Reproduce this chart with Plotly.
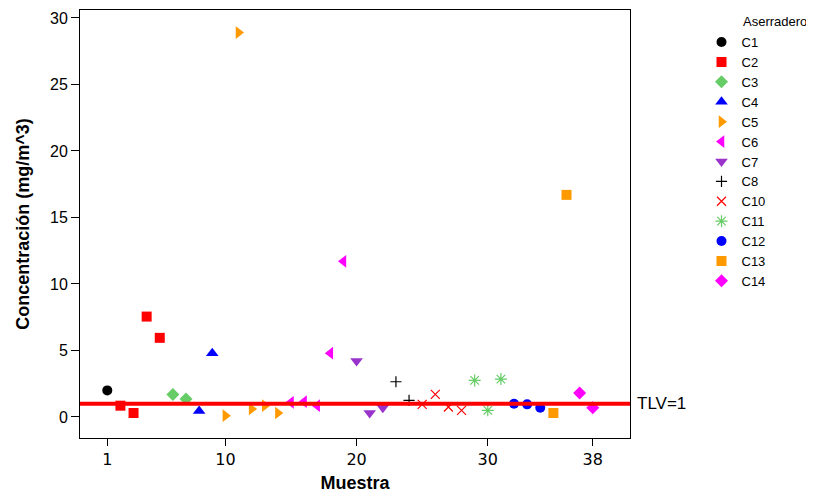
import plotly.graph_objects as go

# Data
groups = ["C1", "C2", "C3", "C4", "C5", "C6", "C7", "C8", "C10", "C11", "C12", "C13", "C14"]
x_C1 = [1]; y_C1 = [2.0]
x_C2 = [2, 3, 4, 5]; y_C2 = [0.85, 0.3, 7.55, 5.95]
x_C3 = [6, 7]; y_C3 = [1.7, 1.35]
x_C4 = [8, 9]; y_C4 = [0.45, 4.8]
x_C5 = [10, 11, 12, 13, 14]; y_C5 = [0.1, 28.9, 0.6, 0.85, 0.3]
x_C6 = [15, 16, 17, 18, 19]; y_C6 = [1.1, 1.15, 0.85, 4.8, 11.7]
x_C7 = [20, 21, 22]; y_C7 = [4.2, 0.3, 0.7]
x_C8 = [23, 24]; y_C8 = [2.65, 1.25]
x_C10 = [25, 26, 27, 28]; y_C10 = [0.95, 1.7, 0.75, 0.5]
x_C11 = [29, 30, 31]; y_C11 = [2.75, 0.5, 2.85]
x_C12 = [32, 33, 34]; y_C12 = [1.0, 0.95, 0.7]
x_C13 = [35, 36]; y_C13 = [0.3, 16.7]
x_C14 = [37, 38]; y_C14 = [1.8, 0.7]
tlv = 1
x_ticks = [1, 10, 20, 30, 38]
y_ticks = [0, 5, 10, 15, 20, 25, 30]

series = [
    ("C1", x_C1, y_C1, "circle", "#000000", 10),
    ("C2", x_C2, y_C2, "square", "#FF0000", 10),
    ("C3", x_C3, y_C3, "diamond", "#66CC66", 10),
    ("C4", x_C4, y_C4, "triangle-up", "#0000FF", 11),
    ("C5", x_C5, y_C5, "triangle-right", "#FF9900", 11),
    ("C6", x_C6, y_C6, "triangle-left", "#FF00FF", 11),
    ("C7", x_C7, y_C7, "triangle-down", "#9933CC", 11),
    ("C8", x_C8, y_C8, "cross-thin", "#000000", 8),
    ("C10", x_C10, y_C10, "x-thin", "#FF0000", 9),
    ("C11", x_C11, y_C11, "asterisk", "#66CC66", 10),
    ("C12", x_C12, y_C12, "circle", "#0000FF", 10),
    ("C13", x_C13, y_C13, "square", "#FF9900", 10),
    ("C14", x_C14, y_C14, "diamond", "#FF00FF", 10),
]

fig = go.Figure()
for name, xs, ys, sym, col, sz in series:
    thin = sym in ("cross-thin", "x-thin", "asterisk")
    fig.add_trace(go.Scatter(
        x=xs, y=ys, mode="markers", name=name,
        marker=dict(symbol=sym, color=col, size=sz,
                    line=dict(color=col, width=1.2 if thin else 0)),
    ))

fig.add_shape(type="line", xref="paper", x0=0, x1=1, yref="y", y0=tlv, y1=tlv,
              line=dict(color="#FF0000", width=4), layer="above")
fig.add_annotation(text="TLV=1", xref="paper", x=1, xanchor="left", xshift=5,
                   yref="y", y=tlv, yanchor="middle", showarrow=False,
                   font=dict(size=17, color="#000000", family="Liberation Sans, Arial, sans-serif"))
fig.add_annotation(text="Aserradero", xref="paper", x=1.2013, xanchor="left",
                   yref="paper", y=0.972, yanchor="middle", showarrow=False,
                   font=dict(size=13, color="#000000", family="Liberation Sans, Arial, sans-serif"))

axis_common = dict(showline=True, linecolor="#000000", linewidth=1, mirror=True,
                   ticks="outside", tickcolor="#000000",
                   showgrid=False, zeroline=False)
fig.update_xaxes(range=[-1.08, 40.84], tickvals=x_ticks, ticklen=7,
                 tickfont=dict(size=16, color="#000000", family="DejaVu Sans, Verdana, sans-serif"),
                 title=dict(text="<b>Muestra</b>",
                            font=dict(size=18, color="#000000", family="Liberation Sans, Arial, sans-serif"),
                            standoff=8),
                 **axis_common)
fig.update_yaxes(range=[-1.58, 30.6], tickvals=y_ticks, ticklen=8,
                 tickfont=dict(size=16, color="#000000", family="Liberation Sans, Arial, sans-serif"),
                 title=dict(text="<b>Concentración (mg/m^3)</b>",
                            font=dict(size=18, color="#000000", family="Liberation Sans, Arial, sans-serif"),
                            standoff=15),
                 **axis_common)

fig.update_layout(
    width=806, height=485,
    margin=dict(l=72, r=184, t=2, b=55, autoexpand=False),
    plot_bgcolor="#FFFFFF", paper_bgcolor="#FFFFFF",
    font=dict(family="Liberation Sans, Arial, sans-serif", color="#000000"),
    legend=dict(font=dict(size=13), x=1.13, xanchor="left", y=0.96, yanchor="top",
                tracegroupgap=0, itemsizing="trace", bgcolor="rgba(0,0,0,0)"),
    showlegend=True,
)

fig.write_html("out.html")
